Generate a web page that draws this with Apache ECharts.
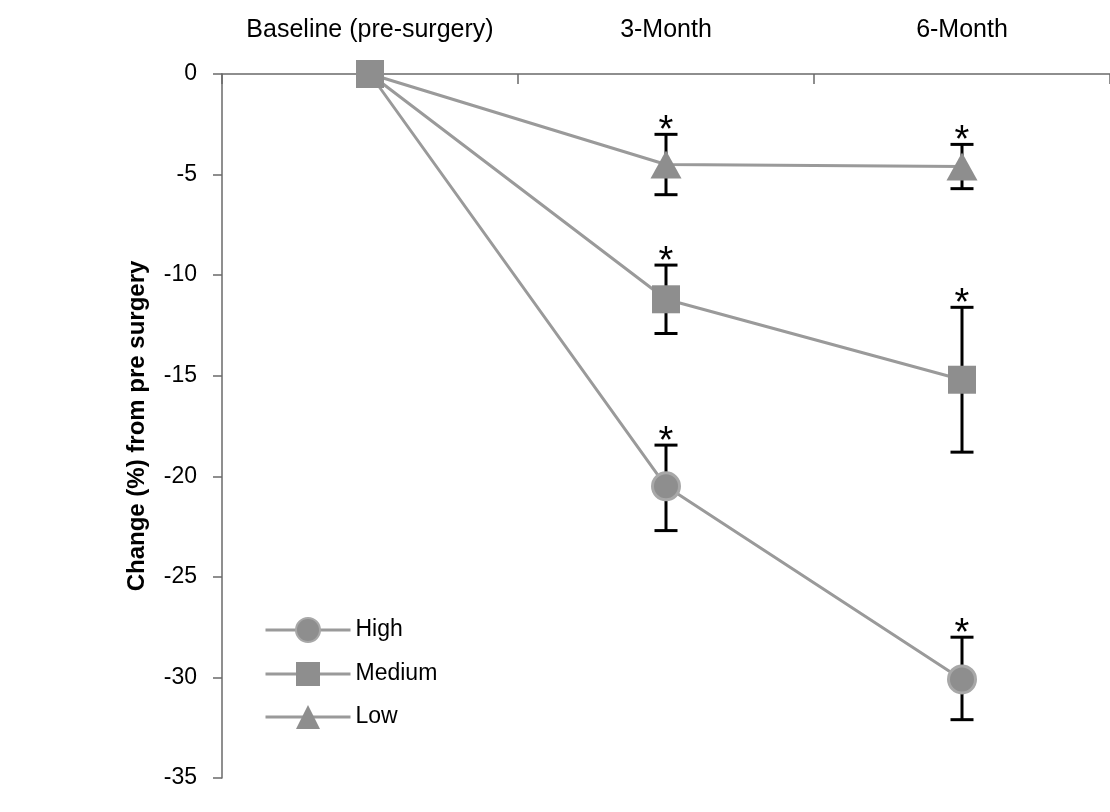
<!DOCTYPE html>
<html>
<head>
<meta charset="utf-8">
<script src="https://cdn.jsdelivr.net/npm/echarts@6/dist/echarts.min.js"></script>
<style>html,body{margin:0;padding:0;background:#fff}#c{width:1110px;height:812px}</style>
</head>
<body>
<div id="c"></div>
<script>
var categories = ['Baseline (pre-surgery)', '3-Month', '6-Month'];
var yTicks = [0, -5, -10, -15, -20, -25, -30, -35];

var highMean = [0, -20.5, -30.1];
var highUpper = [null, -18.45, -28.0];
var highLower = [null, -22.7, -32.1];

var mediumMean = [0, -11.2, -15.2];
var mediumUpper = [null, -9.5, -11.6];
var mediumLower = [null, -12.9, -18.8];

var lowMean = [0, -4.5, -4.6];
var lowUpper = [null, -3.0, -3.5];
var lowLower = [null, -6.0, -5.7];

var significant = ['', '*', '*'];

var FONT = '"Liberation Sans", Arial, sans-serif';
var LINE = '#9a9a9a';
var MARK = '#8e8e8e';

function errData(up, lo) {
  var d = [];
  for (var i = 0; i < categories.length; i++) {
    if (up[i] != null) d.push([i, up[i], lo[i], significant[i]]);
  }
  return d;
}
var errAll = errData(highUpper, highLower).concat(errData(mediumUpper, mediumLower), errData(lowUpper, lowLower));

// baseline point is shared; only the top (square) marker is visible there
function hideFirst(arr) {
  return arr.map(function (v, i) { return i === 0 ? { value: v, symbol: 'none' } : v; });
}

var chart = echarts.init(document.getElementById('c'));
chart.setOption({
  animation: false,
  backgroundColor: '#fff',
  grid: { left: 222, top: 74, width: 891, bottom: 34 },
  legend: {
    left: 259, top: 612, orient: 'vertical',
    itemWidth: 85, itemHeight: 30, itemGap: 19,
    lineStyle: { width: 3 },
    textStyle: { fontFamily: FONT, fontSize: 23, color: '#000' },
    data: ['High', 'Medium', 'Low']
  },
  xAxis: {
    type: 'category', position: 'top', data: categories, boundaryGap: true,
    axisLine: { lineStyle: { color: '#6a6a6a', width: 1.5 } },
    axisTick: { show: true, interval: 0, inside: true, length: 10, lineStyle: { color: '#6a6a6a', width: 1.5 } },
    axisLabel: { interval: 0, hideOverlap: false, fontFamily: FONT, fontSize: 25, color: '#000', margin: 31 },
    splitLine: { show: false }
  },
  yAxis: {
    type: 'value', min: -35, max: 0, interval: 5,
    name: 'Change (%) from pre surgery', nameLocation: 'middle', nameGap: 73,
    nameTextStyle: { fontFamily: FONT, fontSize: 24, fontWeight: 'bold', color: '#000' },
    axisLine: { show: true, lineStyle: { color: '#6a6a6a', width: 1.5 } },
    axisTick: { show: true, length: 9, lineStyle: { color: '#6a6a6a', width: 1.5 } },
    axisLabel: { fontFamily: FONT, fontSize: 23, color: '#000', margin: 25 },
    splitLine: { show: false }
  },
  series: [
    {
      type: 'custom', name: 'err', z: 1, silent: true,
      data: errAll,
      encode: { x: 0, y: [1, 2] },
      renderItem: function (params, api) {
        var x = api.value(0);
        var top = api.coord([x, api.value(1)]);
        var bot = api.coord([x, api.value(2)]);
        var hw = 11.5;
        var st = { stroke: '#000', lineWidth: 3 };
        return {
          type: 'group',
          children: [
            { type: 'line', shape: { x1: top[0], y1: top[1], x2: bot[0], y2: bot[1] }, style: st },
            { type: 'line', shape: { x1: top[0] - hw, y1: top[1], x2: top[0] + hw, y2: top[1] }, style: st },
            { type: 'line', shape: { x1: bot[0] - hw, y1: bot[1], x2: bot[0] + hw, y2: bot[1] }, style: st },
            { type: 'text', style: { text: api.value(3), x: top[0], y: top[1] - 22, textAlign: 'center', textVerticalAlign: 'top', fontFamily: FONT, fontSize: 38, fill: '#000' } }
          ]
        };
      }
    },
    {
      type: 'line', name: 'High', data: hideFirst(highMean), z: 3,
      symbol: 'circle', symbolSize: 27,
      lineStyle: { color: LINE, width: 3 },
      itemStyle: { color: MARK, borderColor: '#a8a8a8', borderWidth: 3 }
    },
    {
      type: 'line', name: 'Low', data: hideFirst(lowMean), z: 3,
      symbol: 'triangle', symbolSize: [31, 28],
      lineStyle: { color: LINE, width: 3 },
      itemStyle: { color: MARK }
    },
    {
      type: 'line', name: 'Medium', data: mediumMean, z: 4,
      symbol: 'rect', symbolSize: 28,
      lineStyle: { color: LINE, width: 3 },
      itemStyle: { color: MARK }
    }
  ]
});
</script>
</body>
</html>
